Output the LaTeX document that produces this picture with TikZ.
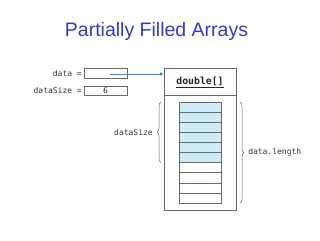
\documentclass[tikz,border=0pt]{standalone}
\usepackage{fontspec}
\setmainfont{Liberation Sans}
\newfontfamily\codefont{DejaVu Sans Mono}
\newfontfamily\numfont{Liberation Serif}
\usetikzlibrary{decorations.pathreplacing,arrows.meta}
\definecolor{titleblue}{RGB}{55,55,205}
\definecolor{arrowblue}{RGB}{30,150,200}
\definecolor{cellfill}{RGB}{205,236,246}
\definecolor{linegray}{RGB}{105,105,105}
\begin{document}
\begin{tikzpicture}[x=1pt,y=-1pt,
  box/.style={draw=linegray, line width=0.6pt, inner sep=0pt, outer sep=0pt},
  varbox/.style={box, minimum width=43pt, minimum height=10pt},
  cell/.style={box, minimum width=42pt, minimum height=10.1pt},
  fullcell/.style={cell, fill=cellfill},
  code/.style={font=\codefont\fontsize{8}{9}\selectfont, text=black!80, inner sep=0pt},
  bracestyle/.style={draw=linegray, line width=0.5pt, decorate, decoration={brace, amplitude=4pt}},
  ptr/.style={draw=arrowblue, line width=0.7pt, -{Latex[length=4pt,width=3.5pt]}}
]
\useasboundingbox (0,0) rectangle (320,240);
\node[anchor=base, text=titleblue, font=\fontsize{19.5}{22}\selectfont, inner sep=0pt] (title) at (156.5,37) {Partially Filled Arrays};

\node[varbox] (databox) at (105.5,73.5) {};
\node[varbox, minimum height=9pt] (sizebox) at (105.5,90.5) {\numfont\fontsize{8.5}{9}\selectfont 6};
\node[code, anchor=east] (datalbl) at (82,73.5) {data =};
\node[code, anchor=east] (sizelbl) at (82,90.5) {dataSize =};

\node[box, minimum width=72pt, minimum height=27pt] (header) at (200,81.5) {};
\node[box, minimum width=72pt, minimum height=115pt] (body) at (200,152.5) {};
\node[font=\codefont\bfseries\fontsize{9.8}{11}\selectfont, text=black!85, inner sep=0pt] (type) at (200,82.5) {\underline{double[]}};

\foreach \i in {1,...,6} {
  \node[fullcell] (c\i) at (200,{102+5.05+(\i-1)*10.1}) {};
}
\foreach \i in {7,...,10} {
  \node[cell] (c\i) at (200,{102+5.05+(\i-1)*10.1}) {};
}

\coordinate (pstart) at (110,74);
\draw[ptr] (pstart) -- (pstart -| header.west);

\draw[bracestyle] ([xshift=-18pt]c6.south west) -- node[code, anchor=east, xshift=-8pt] (sizetag) {dataSize} ([xshift=-18pt]c1.north west);
\draw[bracestyle] ([xshift=19pt]c1.north east) -- node[code, anchor=west, xshift=8pt] (lentag) {data.length} ([xshift=19pt]c10.south east);
\end{tikzpicture}
\end{document}
